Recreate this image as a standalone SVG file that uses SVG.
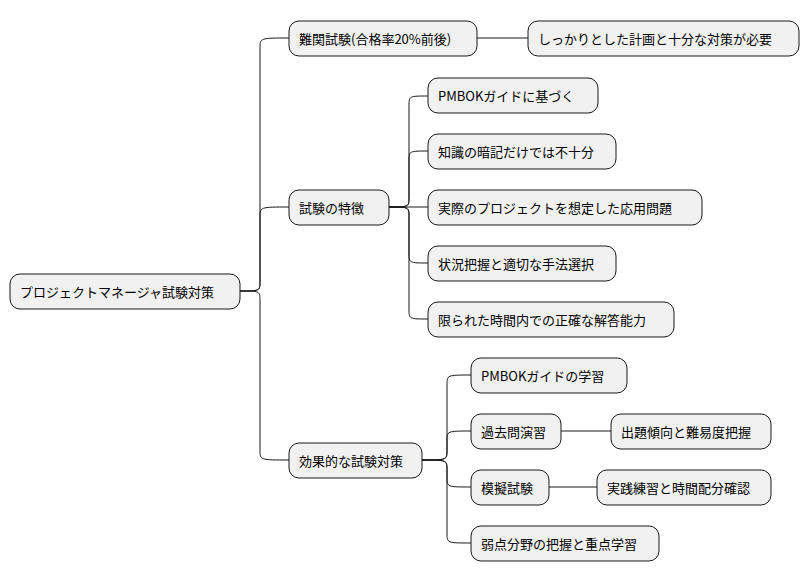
<svg xmlns="http://www.w3.org/2000/svg" width="811" height="583" viewBox="0 0 811 583">
<style>
.n rect{fill:#F1F1F1;stroke:#181818;stroke-width:1}
.n text{font-family:"Noto Sans CJK JP","Noto Sans",sans-serif;font-size:13px;fill:#000;dominant-baseline:central}
.c path{fill:none;stroke:#181818;stroke-width:1}
</style>
<rect width="811" height="583" fill="#fff"/>
<g class="c">
<path d="M240 291 C260 291 260 291 260 281 L260 48 C260 38 260 38 289 38"/>
<path d="M240 291 C260 291 260 291 260 281 L260 217 C260 207 260 207 289 207"/>
<path d="M240 291 C260 291 260 291 260 301 L260 450 C260 460 260 460 289 460"/>
<path d="M477 38 L528 38"/>
<path d="M389 207 C409 207 409 207 409 197 L409 106 C409 96 409 96 428 96"/>
<path d="M389 207 C409 207 409 207 409 197 L409 161 C409 151 409 151 428 151"/>
<path d="M389 207 L428 207"/>
<path d="M389 207 C409 207 409 207 409 217 L409 253 C409 263 409 263 428 263"/>
<path d="M389 207 C409 207 409 207 409 217 L409 309 C409 319 409 319 428 319"/>
<path d="M422 460 C447 460 447 460 447 450 L447 385 C447 375 447 375 471 375"/>
<path d="M422 460 C447 460 447 460 447 450 L447 441 C447 431 447 431 471 431"/>
<path d="M422 460 C447 460 447 460 447 470 L447 477 C447 487 447 487 471 487"/>
<path d="M422 460 C447 460 447 460 447 470 L447 533 C447 543 447 543 471 543"/>
<path d="M561 431 L611 431"/>
<path d="M549 487 L597 487"/>
</g>
<g id="root" class="n"><rect x="10" y="274" width="230" height="35" rx="10"/><text x="20" y="291.5">プロジェクトマネージャ試験対策</text></g>
<g id="n1" class="n"><rect x="289" y="21" width="188" height="35" rx="10"/><text x="299" y="38.5">難関試験(合格率20%前後)</text></g>
<g id="n1a" class="n"><rect x="528" y="21" width="271" height="35" rx="10"/><text x="538" y="38.5">しっかりとした計画と十分な対策が必要</text></g>
<g id="n2" class="n"><rect x="289" y="190" width="100" height="35" rx="10"/><text x="299" y="207.5">試験の特徴</text></g>
<g id="n2a" class="n"><rect x="428" y="78" width="170" height="35" rx="10"/><text x="438" y="95.5">PMBOKガイドに基づく</text></g>
<g id="n2b" class="n"><rect x="428" y="134" width="188" height="35" rx="10"/><text x="438" y="151.5">知識の暗記だけでは不十分</text></g>
<g id="n2c" class="n"><rect x="428" y="190" width="274" height="35" rx="10"/><text x="438" y="207.5">実際のプロジェクトを想定した応用問題</text></g>
<g id="n2d" class="n"><rect x="428" y="246" width="188" height="35" rx="10"/><text x="438" y="263.5">状況把握と適切な手法選択</text></g>
<g id="n2e" class="n"><rect x="428" y="302" width="246" height="35" rx="10"/><text x="438" y="319.5">限られた時間内での正確な解答能力</text></g>
<g id="n3" class="n"><rect x="289" y="443" width="133" height="35" rx="10"/><text x="299" y="460.5">効果的な試験対策</text></g>
<g id="n3a" class="n"><rect x="471" y="358" width="156" height="35" rx="10"/><text x="481" y="375.5">PMBOKガイドの学習</text></g>
<g id="n3b" class="n"><rect x="471" y="414" width="90" height="35" rx="10"/><text x="481" y="431.5">過去問演習</text></g>
<g id="n3b1" class="n"><rect x="611" y="414" width="160" height="35" rx="10"/><text x="621" y="431.5">出題傾向と難易度把握</text></g>
<g id="n3c" class="n"><rect x="471" y="470" width="78" height="35" rx="10"/><text x="481" y="487.5">模擬試験</text></g>
<g id="n3c1" class="n"><rect x="597" y="470" width="174" height="35" rx="10"/><text x="607" y="487.5">実践練習と時間配分確認</text></g>
<g id="n3d" class="n"><rect x="471" y="526" width="188" height="35" rx="10"/><text x="481" y="543.5">弱点分野の把握と重点学習</text></g>
</svg>
